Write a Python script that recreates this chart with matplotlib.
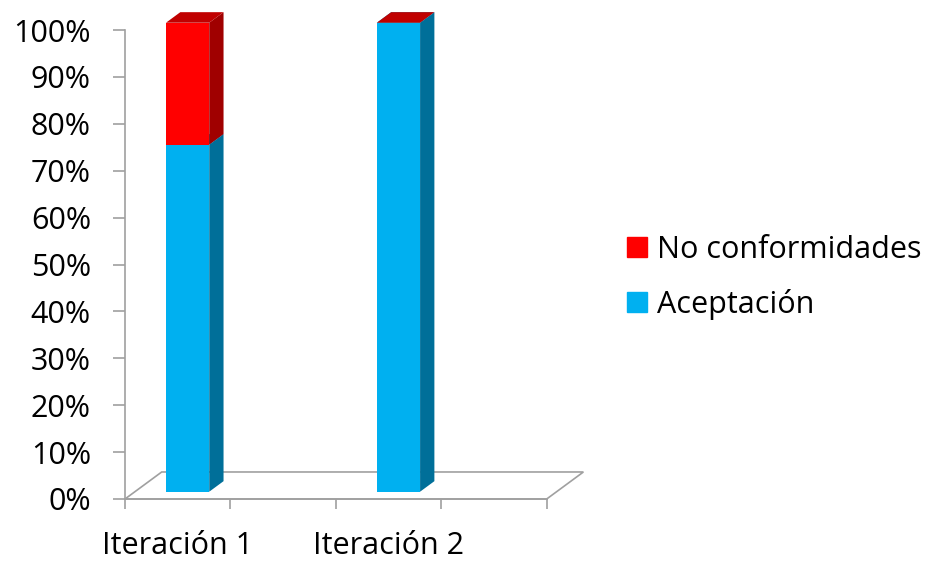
import matplotlib.pyplot as plt
from matplotlib.patches import Polygon, Patch
from matplotlib.ticker import PercentFormatter

plt.rcParams['font.family'] = ['Open Sans', 'DejaVu Sans']

# datos del gráfico (porcentajes)
iteraciones = ['Iteración 1', 'Iteración 2']
aceptacion = [74, 100]
no_conformidades = [26, 0]
posiciones = [0.5, 2.5]

# colores: frente, lateral, superior
colores_acep = ('#00B0F0', '#006F99', '#0091C7')
colores_nc = ('#FF0000', '#A00000', '#C00000')

# profundidad del "piso" 3D en unidades de datos
FX, FY = 0.348, 5.76
D0, D1 = 0.27, 0.66
ancho = 0.41
gris = '#A0A0A0'

fig = plt.figure(figsize=(9.27, 5.61), dpi=100)
ax = fig.add_axes([125 / 927, 1 - 499 / 561, 421.7 / 927, 469 / 561])
ax.set_xlim(0, 4)
ax.set_ylim(0, 100)

# piso
piso = Polygon([(0, 0), (4, 0), (4 + FX, FY), (FX, FY)], closed=True,
               facecolor='white', edgecolor=gris, lw=1.2, clip_on=False, zorder=1)
ax.add_patch(piso)


def barra3d(x, abajo, alto, col):
    x0, x1 = x - ancho / 2, x + ancho / 2
    ox0, oy0 = D0 * FX, D0 * FY
    ox1, oy1 = D1 * FX, D1 * FY
    arriba = abajo + alto
    # cara frontal
    ax.bar(x + ox0, alto, width=ancho, bottom=abajo + oy0, color=col[0],
           lw=0, clip_on=False, zorder=3)
    # cara lateral
    ax.add_patch(Polygon([(x1 + ox0, abajo + oy0), (x1 + ox1, abajo + oy1),
                          (x1 + ox1, arriba + oy1), (x1 + ox0, arriba + oy0)],
                         closed=True, facecolor=col[1], lw=0, clip_on=False, zorder=3))
    # cara superior
    ax.add_patch(Polygon([(x0 + ox0, arriba + oy0), (x1 + ox0, arriba + oy0),
                          (x1 + ox1, arriba + oy1), (x0 + ox1, arriba + oy1)],
                         closed=True, facecolor=col[2], lw=0, clip_on=False, zorder=3))


for x, a, n in zip(posiciones, aceptacion, no_conformidades):
    barra3d(x, 0, a, colores_acep)
    barra3d(x, a, n, colores_nc)

# ejes
for s in ['top', 'right']:
    ax.spines[s].set_visible(False)
for s in ['left', 'bottom']:
    ax.spines[s].set_color(gris)
    ax.spines[s].set_linewidth(1.2)
    ax.spines[s].set_zorder(2)

ax.set_yticks(range(0, 101, 10))
ax.yaxis.set_major_formatter(PercentFormatter(decimals=0))
ax.tick_params(axis='y', direction='out', length=8.5, width=1.2, color=gris,
               labelsize=22, pad=16)
ax.set_xticks([0, 1, 2, 3, 4])
ax.set_xticklabels([])
ax.set_xticks(posiciones, minor=True)
ax.set_xticklabels(iteraciones, minor=True)
ax.tick_params(axis='x', which='major', direction='out', length=7, width=1.2, color=gris)
ax.tick_params(axis='x', which='minor', length=0, labelsize=22, pad=23)

handles = [Patch(color=colores_nc[0]), Patch(color=colores_acep[0])]
fig.legend(handles, ['No conformidades', 'Aceptación'], loc='upper left',
           bbox_to_anchor=(627 / 927, 1 - 235 / 561), frameon=False, fontsize=22,
           handlelength=0.66, handleheight=0.62, handletextpad=0.33,
           labelspacing=0.77, borderpad=0, borderaxespad=0)

plt.savefig('out.png', dpi=100)
